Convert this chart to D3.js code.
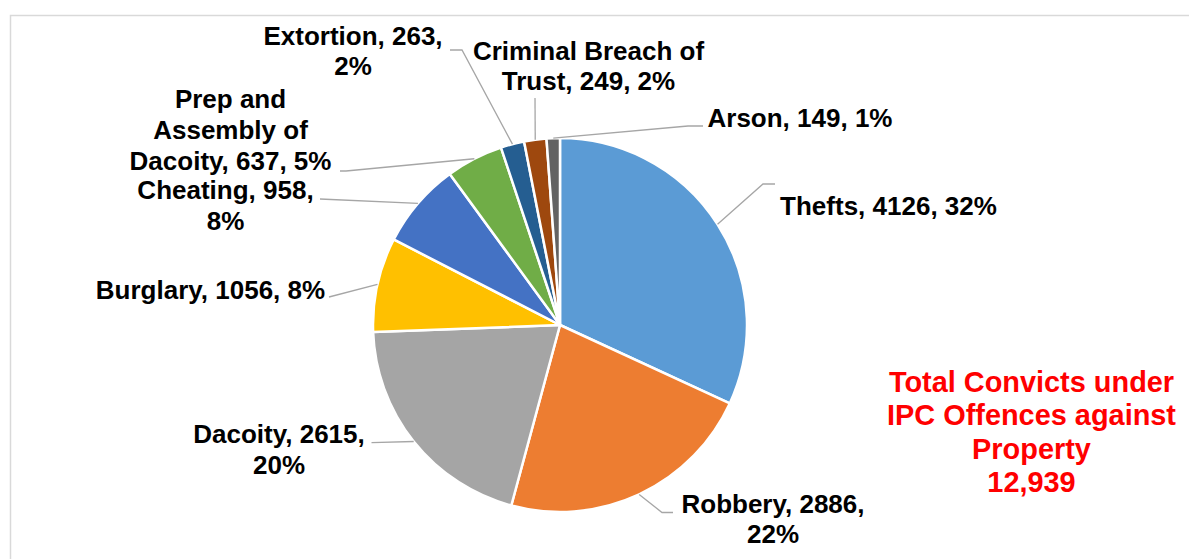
<!DOCTYPE html>
<html>
<head>
<meta charset="utf-8">
<script src="https://cdn.jsdelivr.net/npm/d3@7"></script>
<style>
  html, body { margin: 0; padding: 0; background: #fff; overflow: hidden; }
  svg { display: block; }
  text { font-family: "Liberation Sans", Arial, sans-serif; font-weight: bold; }
</style>
</head>
<body>
<svg id="chart" width="1189" height="559"></svg>
<script>
// ---- data ----
const categories = ["Thefts", "Robbery", "Dacoity", "Burglary", "Cheating",
  "Prep and Assembly of Dacoity", "Extortion", "Criminal Breach of Trust", "Arson"];
const values = [4126, 2886, 2615, 1056, 958, 637, 263, 249, 149];
const percents = ["32%", "22%", "20%", "8%", "8%", "5%", "2%", "2%", "1%"];
const totalTitle = ["Total Convicts under", "IPC Offences against", "Property"];
const totalValue = "12,939";

// ---- layout / style (separate from data) ----
const colors = ["#5B9BD5", "#ED7D31", "#A5A5A5", "#FFC000", "#4472C4",
  "#70AD47", "#255E91", "#9E480E", "#636363"];
const cx = 560, cy = 325, radius = 187;
// label text lines split as in the reference (built from data)
const labelLines = categories.map((c, i) => {
  const full = `${c}, ${values[i]}, ${percents[i]}`;
  switch (i) {
    case 0: return [full];
    case 1: return [`${c}, ${values[i]},`, percents[i]];
    case 2: return [`${c}, ${values[i]},`, percents[i]];
    case 3: return [full];
    case 4: return [`${c}, ${values[i]},`, percents[i]];
    case 5: return ["Prep and", "Assembly of", `Dacoity, ${values[i]}, ${percents[i]}`];
    case 6: return [`${c}, ${values[i]},`, percents[i]];
    case 7: return ["Criminal Breach of", `Trust, ${values[i]}, ${percents[i]}`];
    case 8: return [full];
  }
});
// label center x and first baseline y
const labelPos = [
  [888.5, 215], [773, 512.5], [279, 443.3], [210.5, 299], [225.5, 198.5],
  [230.5, 108], [353, 45], [588.5, 59.5], [800, 126.5]
];
const lineH = [30.5, 30.8, 30.7, 30, 31.5, 31, 30, 30, 30];
// leader line points near the label (pie point is computed from the arc)
const leaderPts = [
  [[775, 184], [763, 184]],
  [[673, 512.5], [662, 512.5]],
  [[371.5, 442.7]],
  [[329, 297]],
  [[320, 199]],
  [[340, 171], [346, 171]],
  [[450, 50], [462, 50]],
  [[535, 98]],
  [[703, 126], [688, 126]]
];

const svg = d3.select("#chart");

// chart border
svg.append("rect")
  .attr("x", 10.5).attr("y", 15.5)
  .attr("width", 1300).attr("height", 700)
  .attr("fill", "#fff").attr("stroke", "#D9D9D9").attr("stroke-width", 1.5);

const pie = d3.pie().sort(null).value(d => d)(values);
const arc = d3.arc().innerRadius(0).outerRadius(radius);

const g = svg.append("g").attr("transform", `translate(${cx},${cy})`);
g.selectAll("path.slice").data(pie).join("path")
  .attr("class", "slice")
  .attr("d", arc)
  .attr("fill", (d, i) => colors[i])
  .attr("stroke", "#fff")
  .attr("stroke-width", 2.5)
  .attr("stroke-linejoin", "round");

// leader lines
const line = d3.line();
pie.forEach((d, i) => {
  const mid = (d.startAngle + d.endAngle) / 2;
  const px = cx + radius * Math.sin(mid);
  const py = cy - radius * Math.cos(mid);
  const pts = leaderPts[i].concat([[px, py]]);
  svg.append("path")
    .attr("d", line(pts))
    .attr("fill", "none")
    .attr("stroke", "#A6A6A6")
    .attr("stroke-width", 1.3);
});

// labels
labelLines.forEach((lines, i) => {
  const t = svg.append("text")
    .attr("text-anchor", "middle")
    .attr("font-size", 26)
    .attr("fill", "#000");
  lines.forEach((s, j) => {
    t.append("tspan")
      .attr("x", labelPos[i][0])
      .attr("y", labelPos[i][1] + j * lineH[i])
      .text(s);
  });
});

// total annotation
const tt = svg.append("text")
  .attr("text-anchor", "middle")
  .attr("font-size", 28.9)
  .attr("fill", "#FF0000");
totalTitle.concat([totalValue]).forEach((s, j) => {
  tt.append("tspan").attr("x", 1031.5).attr("y", 391.5 + j * 33.6).text(s);
});
</script>
</body>
</html>
